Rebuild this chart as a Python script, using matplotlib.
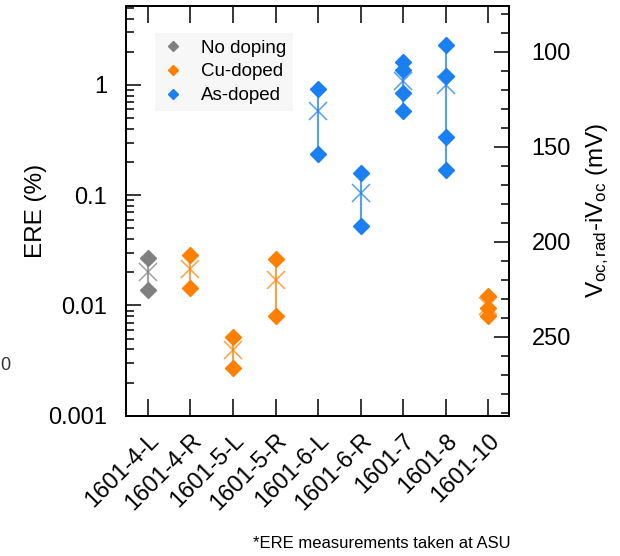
import numpy as np
import matplotlib
matplotlib.use('Agg')
import matplotlib.pyplot as plt
import matplotlib.transforms as mtransforms
from matplotlib.ticker import LogLocator, MultipleLocator, NullFormatter

plt.rcParams['font.family'] = ['Liberation Sans', 'DejaVu Sans']
plt.rcParams['mathtext.fontset'] = 'custom'
plt.rcParams['mathtext.rm'] = 'Liberation Sans'
plt.rcParams['mathtext.it'] = 'Liberation Sans:italic'

# ERE per device (%), several measurements each
samples = ['1601-4-L', '1601-4-R', '1601-5-L', '1601-5-R', '1601-6-L',
           '1601-6-R', '1601-7', '1601-8', '1601-10']
doping = ['No doping', 'Cu-doped', 'Cu-doped', 'Cu-doped', 'As-doped',
          'As-doped', 'As-doped', 'As-doped', 'Cu-doped']
ere_values = [
    [0.0267, 0.0138],
    [0.0286, 0.0143],
    [0.0052, 0.00269],
    [0.0262, 0.0080],
    [0.914, 0.235],
    [0.158, 0.0529],
    [1.60, 1.37, 0.838, 0.581],
    [2.28, 1.21, 0.335, 0.171],
    [0.0122, 0.00953, 0.0080],
]

groups = ['No doping', 'Cu-doped', 'As-doped']
group_colors = {'No doping': '#808080', 'Cu-doped': '#ff8000', 'As-doped': '#1a7ff0'}

# right axis: voltage loss Voc,rad - iVoc (mV), linear in log(ERE)
v_lim = (291.6, 75.9)
v_major = [100, 150, 200, 250]

fig = plt.figure(figsize=(6.2, 5.56), dpi=100)
ax = fig.add_axes([0.204, 0.2523, 0.6175, 0.7369])

x = np.arange(len(samples))
for i, (vals, grp) in enumerate(zip(ere_values, doping)):
    c = group_colors[grp]
    vals = np.array(vals)
    ax.plot([i, i], [vals.min(), vals.max()], color=c, lw=1.5, alpha=0.75, zorder=2)
    ax.plot(np.full(len(vals), i), vals, 'D', color=c, ms=7.8, mec=c, zorder=3)
    ax.plot(i, vals.mean(), 'x', color=c, ms=13, mew=1.1, alpha=0.75, zorder=4)

ax.set_yscale('log')
ax.set_ylim(0.001, 5.2)
ax.set_xlim(-0.5, 8.49)
ax.yaxis.set_major_locator(LogLocator(base=10, numticks=10))
ax.yaxis.set_minor_locator(LogLocator(base=10, subs=np.arange(2, 10), numticks=20))
ax.yaxis.set_minor_formatter(NullFormatter())
ax.set_yticks([0.001, 0.01, 0.1, 1])
ax.set_yticklabels(['0.001', '0.01', '0.1', '1'])
ax.set_ylabel('ERE (%)', fontsize=17.5)
ax.yaxis.set_label_coords(-0.207, 0.5)

ax.set_xticks(x)
ax.set_xticklabels(samples, rotation=45, ha='right', va='top',
                   rotation_mode='anchor', fontsize=17)
offset = mtransforms.ScaledTranslation(24 / 100, 0, fig.dpi_scale_trans)
for lbl in ax.get_xticklabels():
    lbl.set_transform(lbl.get_transform() + offset)

ax.tick_params(axis='x', which='major', direction='in', length=12, width=1.1,
               top=True, pad=10, labelsize=17)
ax.tick_params(axis='y', which='major', direction='in', length=11, width=1.1,
               right=False, pad=14, labelsize=17)
ax.tick_params(axis='y', which='minor', direction='in', length=6, width=1.1, right=False)
for s in ax.spines.values():
    s.set_linewidth(1.4)

ax2 = ax.twinx()
ax2.set_ylim(*v_lim)
ax2.set_yticks(v_major)
ax2.yaxis.set_minor_locator(MultipleLocator(10))
ax2.tick_params(axis='y', which='major', direction='in', length=11, width=1.1,
                pad=16, labelsize=17)
ax2.tick_params(axis='y', which='minor', direction='in', length=6, width=1.1)
ax2.set_ylabel(r'V$_{\mathrm{oc,rad}}$-iV$_{\mathrm{oc}}$ (mV)', fontsize=17.5)
ax2.yaxis.set_label_coords(1.195, 0.5)
for s in ax2.spines.values():
    s.set_linewidth(1.4)

handles = [plt.Line2D([], [], ls='none', marker='D', ms=5.5, color=group_colors[g],
                      mec=group_colors[g]) for g in groups]
leg = ax.legend(handles, groups, loc='upper left', bbox_to_anchor=(0.074, 0.934),
                borderaxespad=0, fontsize=13.5, frameon=True, fancybox=False,
                handlelength=1.2, handletextpad=0.9, labelspacing=0.35,
                borderpad=0.35)
leg.get_frame().set_facecolor('#f7f7f7')
leg.get_frame().set_edgecolor('none')
leg.get_frame().set_alpha(1)

fig.text(0.823, 1 - 543 / 556, '*ERE measurements taken at ASU', ha='right',
         va='center', fontsize=12)
fig.text(0.0, 1 - 365 / 556, '0', ha='left', va='center', fontsize=13, color='#333333')

fig.savefig('out.png', dpi=100)
